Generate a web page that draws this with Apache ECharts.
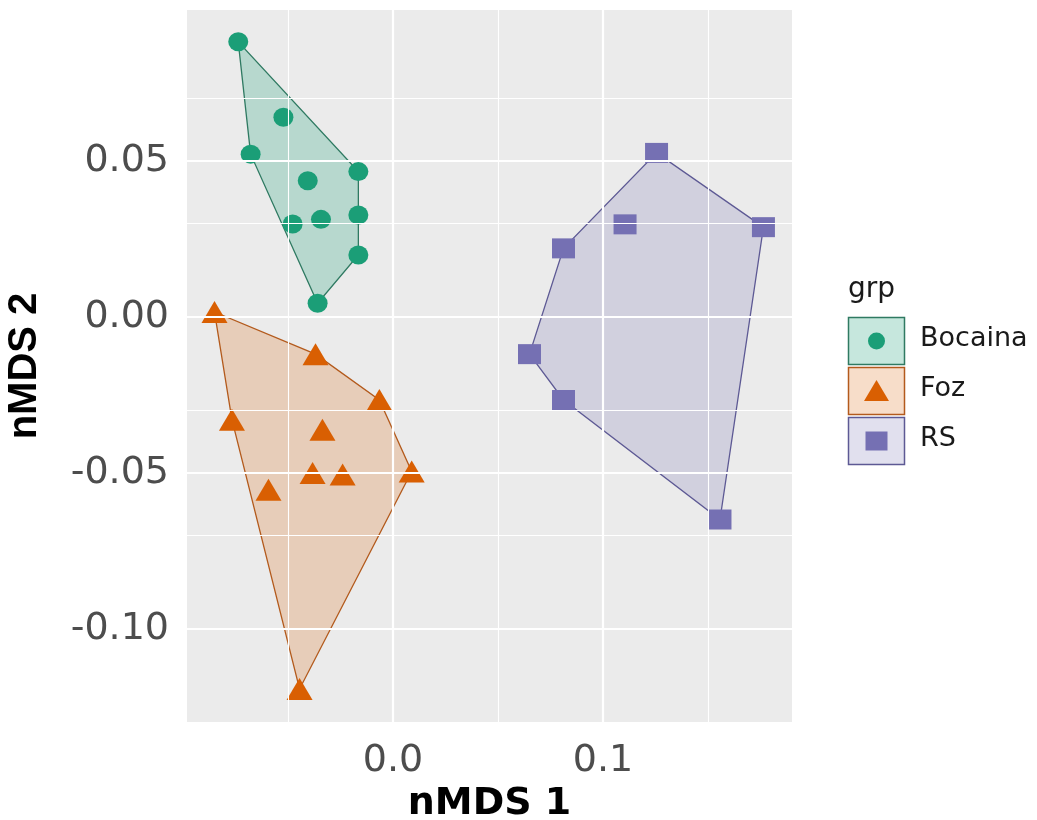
<!DOCTYPE html>
<html><head><meta charset="utf-8">
<script src="https://cdn.jsdelivr.net/npm/echarts@6/dist/echarts.min.js"></script>
<style>html,body{margin:0;padding:0;background:#fff}#c{width:1037px;height:820px}</style>
</head><body><div id="c"></div>
<script>
// ---- data ----
const groups = ['Bocaina', 'Foz', 'RS'];
const bocainaX = [-0.0737, -0.0522, -0.0678, -0.0165, -0.0406, -0.0165, -0.0478, -0.0343, -0.0165, -0.0359];
const bocainaY = [ 0.0882,  0.0640,  0.0522,  0.0466,  0.0437,  0.0327,  0.0298,  0.0313,  0.0199,  0.0044];
const fozX = [-0.0850, -0.0369, -0.0065, -0.0767, -0.0336, -0.0383, -0.0240,  0.0089, -0.0593, -0.0445];
const fozY = [ 0.0016, -0.0119, -0.0266, -0.0329, -0.0361, -0.0500, -0.0505, -0.0495, -0.0554, -0.1192];
const rsX = [0.1255, 0.1105, 0.1764, 0.0812, 0.0650, 0.0812, 0.1557];
const rsY = [0.0526, 0.0297, 0.0288, 0.0220, -0.0119, -0.0266, -0.0649];
const xTickValues = [0.0, 0.1];
const yTickValues = [-0.10, -0.05, 0.00, 0.05];
const xMinorGrid = [-0.05, 0.05, 0.15];
const yMinorGrid = [-0.125, -0.075, -0.025, 0.025, 0.075];
const xTitle = 'nMDS 1';
const yTitle = 'nMDS 2';
const legendTitle = 'grp';

// ---- styles ----
const colors = ['#1B9E77', '#D95F02', '#7570B3'];
const strokes = ['#2f7a62', '#b35a1c', '#5d5994'];
const fills = ['rgba(27,158,119,0.25)', 'rgba(217,95,2,0.21)', 'rgba(117,112,179,0.22)'];
const symbols = ['circle', 'triangle', 'rect'];
const sizes = [[20, 19], [26, 22], [23, 20]];

function zip(xs, ys) { return xs.map((x, i) => [x, ys[i]]); }
const groupData = [zip(bocainaX, bocainaY), zip(fozX, fozY), zip(rsX, rsY)];

function convexHull(pts) {
  const p = pts.slice().sort((a, b) => a[0] - b[0] || a[1] - b[1]);
  const cross = (o, a, b) => (a[0] - o[0]) * (b[1] - o[1]) - (a[1] - o[1]) * (b[0] - o[0]);
  const lower = [];
  for (const q of p) { while (lower.length >= 2 && cross(lower[lower.length - 2], lower[lower.length - 1], q) <= 0) lower.pop(); lower.push(q); }
  const upper = [];
  for (const q of p.slice().reverse()) { while (upper.length >= 2 && cross(upper[upper.length - 2], upper[upper.length - 1], q) <= 0) upper.pop(); upper.push(q); }
  upper.pop(); lower.pop();
  return lower.concat(upper);
}

const series = [];
// grid lines
const gridLines = [];
xTickValues.forEach(v => gridLines.push({ xAxis: v, lineStyle: { width: 2.2 } }));
xMinorGrid.forEach(v => gridLines.push({ xAxis: v, lineStyle: { width: 1.1 } }));
yTickValues.forEach(v => gridLines.push({ yAxis: v, lineStyle: { width: 2.2 } }));
yMinorGrid.forEach(v => gridLines.push({ yAxis: v, lineStyle: { width: 1.1 } }));
series.push({
  type: 'scatter', data: [], z: 1, silent: true,
  markLine: { silent: true, symbol: 'none', label: { show: false }, animation: false,
    lineStyle: { color: '#ffffff', type: 'solid' }, data: gridLines }
});

groups.forEach((g, i) => {
  const hull = convexHull(groupData[i]);
  series.push({
    type: 'custom', name: g + ' hull', z: 2, silent: true,
    data: hull, encode: { x: 0, y: 1 },
    renderItem: function (params, api) {
      if (params.dataIndex !== 0) return null;
      const pts = hull.map(p => api.coord(p));
      return { type: 'polygon', shape: { points: pts },
        style: { fill: fills[i], stroke: strokes[i], lineWidth: 1.3 } };
    }
  });
});
groups.forEach((g, i) => {
  series.push({
    type: 'scatter', name: g, z: 3, data: groupData[i],
    symbol: symbols[i], symbolSize: sizes[i],
    itemStyle: { color: colors[i], opacity: 1 }
  });
});

// legend drawn as ggplot-style keys
const legendGraphics = [{ type: 'text', left: 848, top: 276,
  style: { text: legendTitle, fontSize: 28, fontFamily: 'DejaVu Sans', fill: '#1a1a1a' } }];
const keyTop = [317, 367, 417];
groups.forEach((g, i) => {
  legendGraphics.push({ type: 'rect', shape: { x: 848.5, y: keyTop[i] + 0.5, width: 56, height: 47 },
    style: { fill: fills[i], stroke: strokes[i], lineWidth: 1.5 } });
  let shape;
  if (i === 0) shape = { type: 'circle', shape: { cx: 876.5, cy: keyTop[i] + 24, r: 8.5 }, style: { fill: colors[i] } };
  else if (i === 1) shape = { type: 'polygon', shape: { points: [[876.5, keyTop[i] + 13], [864, keyTop[i] + 34], [889, keyTop[i] + 34]] }, style: { fill: colors[i] } };
  else shape = { type: 'rect', shape: { x: 865.5, y: keyTop[i] + 14.5, width: 22, height: 19 }, style: { fill: colors[i] } };
  legendGraphics.push(shape);
  legendGraphics.push({ type: 'text', left: 920, top: keyTop[i] + 8, style: { text: g, fontSize: 27, fontFamily: 'DejaVu Sans', fill: '#1a1a1a' } });
});

const chart = echarts.init(document.getElementById('c'), null, { renderer: 'canvas' });
chart.setOption({
  animation: false,
  backgroundColor: '#ffffff',
  grid: { left: 187, top: 10, right: 245, bottom: 98, show: true, backgroundColor: '#EBEBEB', borderWidth: 0,
    containLabel: false, outerBoundsMode: 'none' },
  xAxis: {
    type: 'value', min: -0.0981, max: 0.19,
    name: xTitle, nameLocation: 'middle', nameGap: 59,
    nameTextStyle: { fontSize: 38, fontWeight: 'bold', fontFamily: 'DejaVu Sans', color: '#000' },
    axisLine: { show: false },
    axisTick: { show: true, customValues: xTickValues, length: 8, lineStyle: { color: '#333', width: 1.6 } },
    axisLabel: { customValues: xTickValues, formatter: v => v.toFixed(1), fontSize: 38, fontFamily: 'DejaVu Sans', color: '#4d4d4d', margin: 20 },
    splitLine: { show: false }
  },
  yAxis: {
    type: 'value', min: -0.1298, max: 0.0984,
    name: yTitle, nameLocation: 'middle', nameGap: 142,
    nameTextStyle: { fontSize: 40, fontWeight: 'bold', fontFamily: 'Liberation Sans', color: '#000' },
    axisLine: { show: false },
    axisTick: { show: true, customValues: yTickValues, length: 8, lineStyle: { color: '#333', width: 1.6 } },
    axisLabel: { customValues: yTickValues, formatter: v => v.toFixed(2), fontSize: 38, fontFamily: 'DejaVu Sans', color: '#4d4d4d', margin: 18 },
    splitLine: { show: false }
  },
  graphic: legendGraphics,
  series: series
});
</script></body></html>
